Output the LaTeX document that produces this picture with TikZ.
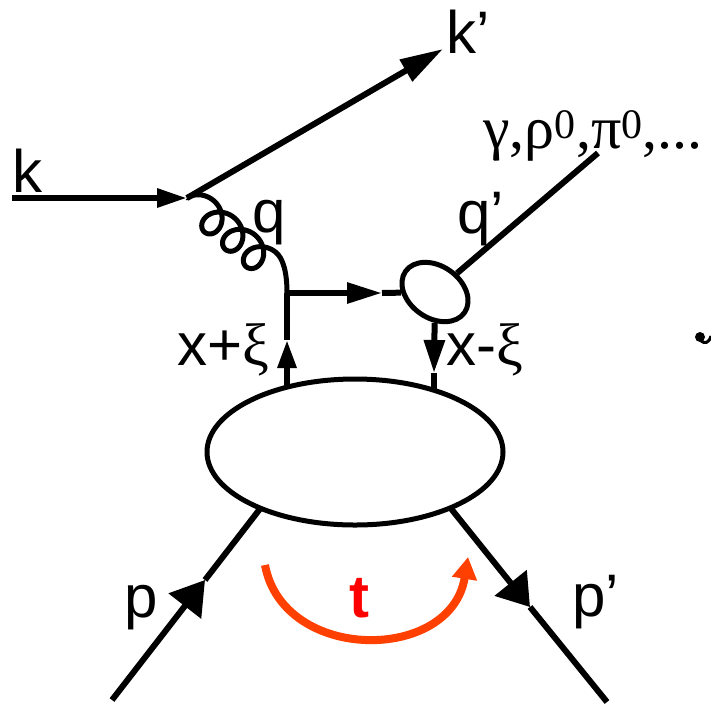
\documentclass[tikz,border=0pt]{standalone}
\usepackage{fontspec}
\setmainfont{Liberation Sans}
\newfontfamily\grk{Liberation Serif}
\usetikzlibrary{arrows.meta,shapes.geometric}
\definecolor{tarrow}{RGB}{255,64,0}
\definecolor{tred}{RGB}{255,0,0}
\begin{document}
\begin{tikzpicture}[x=1pt,y=-1pt,
  ln/.style={line width=6pt},
  tri/.style 2 args={arrows={-{Triangle[length=#1,width=#2]}}},
  lbl/.style={font=\fontsize{60}{72}\selectfont, inner sep=0pt},
  gluon/.style={line width=5pt, line join=round}
]
\useasboundingbox (0,0) rectangle (711,705);
% coordinates
\coordinate (k0) at (12,198);
\coordinate (v) at (187,198);
\coordinate (kp) at (443,49);
\coordinate (g) at (287,293);
\coordinate (ha) at (382,293);
\coordinate (uA) at (287,340);
\coordinate (uIn) at (287,430);
\coordinate (dA) at (434,373);
\coordinate (dIn) at (434,430);
\coordinate (qe) at (598,153);
\coordinate (p0) at (112,700);
\coordinate (pA) at (205,580);
\coordinate (pIn) at (290,470);
\coordinate (pp0) at (607,702);
\coordinate (ppA) at (530,607);
\coordinate (ppIn) at (420,470);
% small blob
\node[ellipse, draw, line width=5pt, minimum width=72pt, minimum height=52pt, inner sep=0pt, rotate=-35] (se) at (435,292) {};
% electron lines
\draw[ln, tri={30pt}{18pt}] (k0) -- (v);
\draw[ln, tri={43pt}{24pt}] (v) -- (kp);
% gluon (looped line from the vertex v to g)
\draw[gluon] (v) -- plot[domain=-pi/2:6*pi, samples=300, variable=\t]
  ({214.2 + 0.77*(4.3*(\t-pi) + 15*sin(\t r)) + 0.64*15*cos(\t r)},
   {220.6 + 0.64*(4.3*(\t-pi) + 15*sin(\t r)) - 0.77*15*cos(\t r)})
  .. controls (283,258) and (287,272) .. (g);
% quark lines
\draw[ln, tri={28pt}{18pt}] (uIn) -- (uA);
\draw[ln] (uA) -- (g);
\draw[ln, tri={35pt}{20pt}] (g) -- (ha);
\draw[ln] (ha) -- (se);
\draw[ln, tri={33pt}{20pt}] (se) -- (dA);
\draw[ln] (dA) -- (dIn);
\draw[ln] (se) -- (qe);
% proton lines
\draw[ln, tri={33pt}{40pt}] (p0) -- (pA);
\draw[ln] (pA) -- (pIn);
\draw[ln, tri={31pt}{40pt}] (ppIn) -- (ppA);
\draw[ln] (ppA) -- (pp0);
% big blob
\node[ellipse, draw, fill=white, line width=5pt, minimum width=296pt, minimum height=146pt, inner sep=0pt] (E) at (355,452) {};
% t arrow
\coordinate (t0) at (265,565);
\coordinate (t1) at (468,557);
\draw[tarrow, line width=8pt, tri={22pt}{24pt}] (t0) .. controls (283,663) and (451,663) .. (t1);
% labels
\node[lbl, anchor=base west] (lk) at (12,192) {k};
\node[lbl, anchor=base west] (lkp) at (446,53) {k’};
\node[lbl, anchor=base west] (lq) at (252,232) {q};
\node[lbl, anchor=base west] (lqp) at (457,233) {q’};
\node[lbl, anchor=base east] (lxp) at (269,365) {x+{\grk ξ}};
\node[lbl, anchor=base west] (lxm) at (446,365) {x-{\grk ξ}};
\node[lbl, anchor=base west] (lm) at (483,148) {\grk γ,ρ\textsuperscript{0},π\textsuperscript{0},...};
\node[lbl, anchor=base west] (lp) at (124,617) {p};
\node[lbl, anchor=base west] (lpp) at (572,616) {p’};
\node[lbl, anchor=base, text=tred, font=\fontsize{60}{72}\selectfont\bfseries] (lt) at (359,617) {t};
% partial glyph at right edge
\fill (700,337) circle (5pt);
\draw[line width=3pt] (701,341) .. controls (705,344) and (709,343) .. (711,336);
\end{tikzpicture}
\end{document}
